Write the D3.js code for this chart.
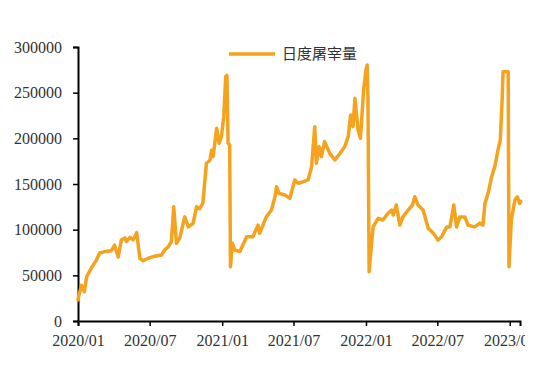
<!DOCTYPE html>
<html>
<head>
<meta charset="utf-8">
<script src="https://cdn.jsdelivr.net/npm/d3@7"></script>
<style>
  body { margin: 0; background: #fff; }
  svg { display: block; }
</style>
</head>
<body>
<div id="chart-area"></div>
<script>
// series name
var seriesName = "日度屠宰量";

// dates and daily slaughter volume
var dates = [
  "2020-01-01","2020-01-03","2020-01-10","2020-01-14","2020-01-17","2020-01-23","2020-02-04","2020-02-17",
  "2020-02-25","2020-03-09","2020-03-26","2020-04-03","2020-04-12","2020-04-20","2020-04-29","2020-05-03",
  "2020-05-12","2020-05-20","2020-05-29","2020-06-06","2020-06-14","2020-06-27","2020-07-14","2020-07-31",
  "2020-08-08","2020-08-17","2020-08-25","2020-08-31","2020-09-07","2020-09-15","2020-09-28","2020-10-07",
  "2020-10-19","2020-10-28","2020-11-05","2020-11-13","2020-11-22","2020-12-01","2020-12-05","2020-12-09",
  "2020-12-18","2020-12-24","2020-12-30","2021-01-05","2021-01-10","2021-01-13","2021-01-16","2021-01-20",
  "2021-01-22","2021-01-27","2021-02-02","2021-02-15","2021-03-04","2021-03-20","2021-04-02","2021-04-06",
  "2021-04-23","2021-05-06","2021-05-15","2021-05-19","2021-05-25","2021-06-09","2021-06-22","2021-07-04",
  "2021-07-13","2021-07-26","2021-08-07","2021-08-16","2021-08-24","2021-08-28","2021-09-04","2021-09-10",
  "2021-09-18","2021-10-01","2021-10-14","2021-10-27","2021-11-08","2021-11-17","2021-11-23","2021-11-29",
  "2021-12-04","2021-12-12","2021-12-18","2021-12-26","2022-01-01","2022-01-04","2022-01-06","2022-01-09",
  "2022-01-19","2022-02-01","2022-02-13","2022-02-26","2022-03-07","2022-03-11","2022-03-19","2022-03-28",
  "2022-04-05","2022-04-18","2022-04-29","2022-05-05","2022-05-13","2022-05-26","2022-06-08","2022-06-21",
  "2022-07-03","2022-07-12","2022-07-25","2022-08-02","2022-08-12","2022-08-19","2022-08-27","2022-09-09",
  "2022-09-17","2022-10-04","2022-10-17","2022-10-25","2022-10-30","2022-11-07","2022-11-16","2022-11-24",
  "2022-12-02","2022-12-08","2022-12-13","2022-12-15","2022-12-28","2022-12-30","2023-01-05","2023-01-14",
  "2023-01-20","2023-01-26","2023-01-29"
];
var values = [
  23000,28000,39000,35000,32000,48500,58000,67000,
  74500,76000,77000,83000,70000,88700,91000,87000,
  91500,88700,96700,68700,66000,68700,71000,72300,
  77700,81400,86800,125000,85000,90500,114000,103000,
  107000,125000,123000,129000,172700,176000,187000,180000,
  211000,194600,201800,223700,267500,269000,194600,192700,
  59500,85000,77700,76000,92300,92300,105000,96000,
  114000,121500,136000,147000,139800,138000,134400,154400,
  150800,152500,154400,169000,212800,172700,190900,180000,
  196400,183600,176300,183600,190900,201800,225600,212800,
  243800,209100,200000,253000,274800,280300,245600,54000,
  103000,112400,110600,118000,121500,116000,127000,105000,
  114000,121500,127000,136000,127000,121500,101500,96000,
  88700,92300,103000,103000,127000,103000,114000,114000,
  105000,103000,107000,105000,128800,139800,158000,169000,
  187000,198200,245600,273000,273000,59500,110600,132500,
  136000,128800,131000
];

// axis ticks
var yTicks = [0, 50000, 100000, 150000, 200000, 250000, 300000];
var xTickLabels = ["2020/01","2020/07","2021/01","2021/07","2022/01","2022/07","2023/01"];

var parseDate = d3.timeParse("%Y-%m-%d");
var parseTick = d3.timeParse("%Y/%m");
var data = dates.map(function(d, i){
    return { date: parseDate(d), value: values[i] };
});

var lineColor = "#f5a21e";
var textColor = "#333";

var svg = d3.select("#chart-area")
    .append("svg")
        .attr("width", 525)
        .attr("height", 373);

var x = d3.scaleTime()
    .domain([parseDate("2020-01-01"), parseDate("2023-01-27")])
    .range([78, 520]);
var y = d3.scaleLinear()
    .domain([0, 300000])
    .range([321, 47]);

// Y Axis
var yAxisCall = d3.axisLeft(y)
    .tickValues(yTicks)
    .tickSize(5)
    .tickPadding(11)
    .tickFormat(function(d){ return d; });
var yAxis = svg.append("g")
    .attr("transform", "translate(78,0)")
    .call(yAxisCall);

// X Axis
var xAxisCall = d3.axisBottom(x)
    .tickValues(xTickLabels.map(parseTick))
    .tickSize(5)
    .tickPadding(9)
    .tickFormat(d3.timeFormat("%Y/%m"));
var xAxis = svg.append("g")
    .attr("transform", "translate(0,321)")
    .call(xAxisCall);

[xAxis, yAxis].forEach(function(a){
    a.select(".domain").attr("stroke", "#000").attr("stroke-width", 2);
    a.selectAll(".tick line").attr("stroke", "#000").attr("stroke-width", 1.5);
    a.selectAll(".tick text")
        .attr("fill", textColor)
        .style("font-family", "'Liberation Serif', 'Times New Roman', serif")
        .style("font-size", "16px");
});

// Line
var line = d3.line()
    .x(function(d){ return x(d.date); })
    .y(function(d){ return y(d.value); });

svg.append("path")
    .datum(data)
    .attr("fill", "none")
    .attr("stroke", lineColor)
    .attr("stroke-width", 3.5)
    .attr("stroke-linejoin", "round")
    .attr("stroke-linecap", "round")
    .attr("d", line);

// Legend
var legend = svg.append("g")
    .attr("transform", "translate(229,54)");
legend.append("line")
    .attr("x1", 0)
    .attr("x2", 46)
    .attr("stroke", lineColor)
    .attr("stroke-width", 3.5);
legend.append("text")
    .attr("x", 53)
    .attr("y", 5)
    .attr("fill", textColor)
    .style("font-family", "'Noto Sans CJK SC', sans-serif")
    .style("font-size", "15px")
    .text(seriesName);
</script>
</body>
</html>
